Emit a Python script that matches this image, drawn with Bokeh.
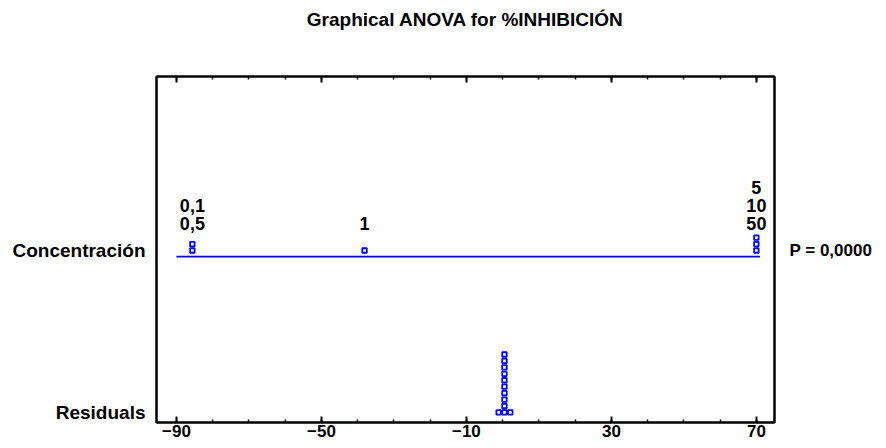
from bokeh.plotting import figure
from bokeh.models import Range1d, LinearAxis, FixedTicker, Title
from bokeh.core.properties import value
from bokeh.embed import file_html
from bokeh.resources import INLINE

# ---- data ----
title_text = "Graphical ANOVA for %INHIBICIÓN"
factor_name = "Concentración"
resid_name = "Residuals"
p_value_text = "P = 0,0000"
group_labels = ["0,1", "0,5", "1", "5", "10", "50"]
group_effects = [-85.6, -85.6, -38.1, 70.0, 70.0, 70.0]
residuals = [-1.1, 0.4, 0.5, 0.6, 0.5, 0.4, 0.6, 0.5, 0.4, 0.6, 0.5, 2.1]
x_major_ticks = [-90, -50, -10, 30, 70]
x_minor_ticks = list(range(-90, 71, 10))
line_span = [-90, 71]

FONT = "Liberation Sans"
FS = "17px"
FS_BIG = "19px"
BLUE = "#0000ff"

# layout (data y units ~ pixels)
Y_FACTOR = 165
Y_RESID = 10
STEP = 6.4
BIN = 1.2
X0, X1 = -95.5, 75.0
Y0, Y1 = 0, 344

p = figure(width=878, height=442, output_backend="svg", toolbar_location=None,
           x_range=Range1d(X0, X1), y_range=Range1d(Y0, Y1),
           x_axis_location=None, y_axis_location=None,
           min_border_left=156, min_border_right=104, min_border_top=76,
           min_border_bottom=20, background_fill_color="white",
           border_fill_color="white")
p.grid.visible = False
p.outline_line_color = "black"
p.outline_line_width = 2

p.title.text = title_text
p.title.align = "center"
p.title.offset = 10
p.title.text_font = FONT
p.title.text_font_size = FS_BIG
p.title.text_font_style = "bold"
p.title.text_color = "black"


def style_axis(ax):
    ax.axis_line_color = "black"
    ax.axis_line_width = 2
    ax.major_tick_line_color = "black"
    ax.major_tick_line_width = 2
    ax.minor_tick_line_color = "black"
    ax.minor_tick_line_width = 1.5
    ax.major_label_text_font = FONT
    ax.major_label_text_font_size = FS
    ax.major_label_text_font_style = "bold"
    ax.major_label_text_color = "black"


bottom = LinearAxis(ticker=FixedTicker(ticks=x_major_ticks, minor_ticks=x_minor_ticks))
style_axis(bottom)
bottom.major_tick_in = 6
bottom.major_tick_out = 0
bottom.minor_tick_in = 3
bottom.minor_tick_out = 0
bottom.major_label_standoff = 2
p.add_layout(bottom, "below")

top = LinearAxis(ticker=FixedTicker(ticks=x_major_ticks, minor_ticks=x_minor_ticks))
style_axis(top)
top.major_tick_in = 6
top.major_tick_out = 0
top.minor_tick_in = 3
top.minor_tick_out = 0
top.major_label_overrides = {t: "" for t in x_major_ticks}
top.major_label_text_font_size = "1px"
top.major_label_standoff = 0
p.add_layout(top, "above")

# empty spacer between the top axis and the title
p.add_layout(Title(text=" ", text_font_size="26px"), "above")

left = LinearAxis(ticker=FixedTicker(ticks=[Y_RESID, Y_FACTOR + 6], minor_ticks=[]))
style_axis(left)
left.major_label_text_font_size = FS_BIG
left.major_tick_in = 0
left.major_tick_out = 0
left.major_label_standoff = 11
left.major_label_overrides = {Y_FACTOR + 6: factor_name, Y_RESID: resid_name}
p.add_layout(left, "left")

right = LinearAxis(ticker=FixedTicker(ticks=[Y_FACTOR + 6], minor_ticks=[]))
style_axis(right)
right.major_tick_in = 0
right.major_tick_out = 0
right.major_label_standoff = 15
right.major_label_overrides = {Y_FACTOR + 6: p_value_text}
p.add_layout(right, "right")

# factor line
p.line(x=line_span, y=[Y_FACTOR, Y_FACTOR], line_color=BLUE, line_width=1.8)

# stacked group points and labels
gx, gy, lx, ly, lt = [], [], [], [], []
groups = {}
for lab, eff in zip(group_labels, group_effects):
    groups.setdefault(eff, []).append(lab)
for eff, labs in groups.items():
    n = len(labs)
    for k in range(n):
        gx.append(eff)
        gy.append(Y_FACTOR + 6 + k * STEP)
    for i, lab in enumerate(labs):
        lx.append(eff)
        ly.append(Y_FACTOR + 33 + (n - 1 - i) * 18)
        lt.append(lab)

p.scatter(x=gx, y=gy, marker="square", size=4.5, fill_color="white",
          line_color=BLUE, line_width=1.8)
p.text(x=lx, y=ly, text=lt, text_align="center", text_baseline="middle",
       text_font=value(FONT), text_font_size="18px", text_font_style="bold",
       text_color="black")

# residual dot plot (stacked by bins)
bins = {}
for r in residuals:
    bins.setdefault(round(r / BIN), []).append(r)
rx, ry = [], []
for b, vals in bins.items():
    xc = sum(vals) / len(vals)
    for k in range(len(vals)):
        rx.append(xc)
        ry.append(Y_RESID + k * STEP)
p.scatter(x=rx, y=ry, marker="square", size=4.5, fill_color="white",
          line_color=BLUE, line_width=1.8)

open("out.html", "w").write(file_html(p, INLINE))
